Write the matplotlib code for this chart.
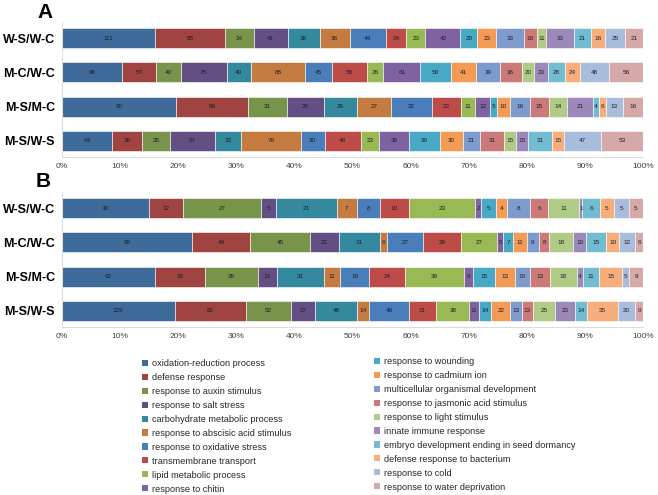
import numpy as np
import matplotlib
matplotlib.use("Agg")
import matplotlib.pyplot as plt
from matplotlib.patches import Patch

plt.rcParams['font.family'] = ['Liberation Sans', 'DejaVu Sans']

groups = ["W-S/W-C", "M-C/W-C", "M-S/M-C", "M-S/W-S"]

terms = [
    "oxidation-reduction process", "defense response", "response to auxin stimulus",
    "response to salt stress", "carbohydrate metabolic process",
    "response to abscisic acid stimulus", "response to oxidative stress",
    "transmembrane transport", "lipid metabolic process", "response to chitin",
    "response to wounding", "response to cadmium ion",
    "multicellular organismal development", "response to jasmonic acid stimulus",
    "response to light stimulus", "innate immune response",
    "embryo development ending in seed dormancy", "defense response to bacterium",
    "response to cold", "response to water deprivation",
]

colors = [
    "#3F6B9A", "#A04442", "#78944A", "#634F84", "#35899F", "#C57B3F",
    "#4A7EBB", "#BD4C49", "#98B954", "#7F63A1", "#47A9C4", "#F39A55",
    "#7E9BCE", "#CC7A79", "#AFCB86", "#9C89B9", "#72BCD2", "#F7AE7B",
    "#A8BCDC", "#D6A8A8",
]

# Panel A counts (per group, in term order)
a_ws_wc = [111, 85, 34, 41, 38, 36, 44, 24, 23, 42, 20, 23, 33, 16, 11, 33, 21, 16, 25, 21]
a_mc_wc = [98, 57, 40, 75, 40, 88, 45, 58, 26, 61, 50, 41, 39, 36, 20, 23, 28, 24, 48, 56]
a_ms_mc = [90, 56, 31, 29, 26, 27, 32, 23, 11, 12, 5, 10, 16, 15, 14, 21, 4, 6, 13, 16]
a_ms_ws = [64, 38, 35, 57, 33, 76, 30, 46, 23, 38, 39, 30, 21, 31, 15, 15, 31, 15, 47, 53]

# Panel B counts
b_ws_wc = [30, 12, 27, 5, 21, 7, 8, 10, 23, 2, 5, 4, 8, 6, 11, 1, 6, 5, 5, 5]
b_mc_wc = [99, 44, 45, 22, 31, 6, 27, 29, 27, 5, 7, 11, 9, 8, 18, 10, 15, 10, 12, 6]
b_ms_mc = [62, 33, 35, 13, 31, 11, 19, 24, 39, 6, 15, 13, 10, 13, 18, 4, 11, 15, 5, 9]
b_ms_ws = [129, 82, 52, 27, 48, 14, 46, 31, 38, 11, 14, 22, 13, 13, 25, 23, 14, 35, 20, 9]

xticks = np.arange(0, 1.01, 0.1)
xticklabels = [f"{int(round(t*100))}%" for t in xticks]

W, H = 658, 495
fig = plt.figure(figsize=(W/100, H/100), dpi=100)


def panel(rect, rows, letter, letter_xy):
    ax = fig.add_axes(rect)
    data = np.array(rows, dtype=float)
    frac = data / data.sum(axis=1, keepdims=True)
    left = np.zeros(len(groups))
    y = np.arange(len(groups))
    for j in range(len(terms)):
        bars = ax.barh(y, frac[:, j], left=left, height=0.58, color=colors[j],
                       edgecolor="white", linewidth=0.4)
        ax.bar_label(bars, labels=[str(int(v)) for v in data[:, j]],
                     label_type="center", fontsize=4.6, color="#1e1e2a")
        left += frac[:, j]
    ax.set_xlim(0, 1)
    ax.set_ylim(3.47, -0.47)
    ax.set_yticks(y)
    ax.set_yticklabels(groups, fontsize=9, fontweight="bold")
    ax.set_xticks(xticks)
    ax.set_xticklabels(xticklabels, fontsize=6, color="#404040")
    ax.tick_params(axis="both", length=0)
    ax.tick_params(axis="x", pad=4)
    ax.tick_params(axis="y", pad=5)
    for s in ("top", "right"):
        ax.spines[s].set_visible(False)
    for s in ("left", "bottom"):
        ax.spines[s].set_color("#DCDCDC")
        ax.spines[s].set_linewidth(0.8)
    fig.text(letter_xy[0] / W, 1 - letter_xy[1] / H, letter, fontsize=15,
             fontweight="bold", ha="center", va="center")
    return ax


left_f = 62 / W
width_f = 581 / W
h_f = 135 / H
panel([left_f, 1 - 157 / H, width_f, h_f],
      [a_ws_wc, a_mc_wc, a_ms_mc, a_ms_ws], "A", (45, 13))
panel([left_f, 1 - 327 / H, width_f, h_f],
      [b_ws_wc, b_mc_wc, b_ms_mc, b_ms_ws], "B", (43, 182))

handles = [Patch(facecolor=c, edgecolor="none") for c in colors]
common = dict(frameon=False, fontsize=6.6, handlelength=0.65, handleheight=0.65,
              handletextpad=0.4, labelspacing=0.54, borderpad=0, borderaxespad=0,
              loc="upper left")
leg1 = fig.legend(handles[:10], terms[:10], bbox_to_anchor=(142 / W, 1 - 359 / H), **common)
leg2 = fig.legend(handles[10:], terms[10:], bbox_to_anchor=(374 / W, 1 - 357 / H), **common)
for leg in (leg1, leg2):
    for t in leg.get_texts():
        t.set_color("#262626")

fig.savefig("out.png", dpi=100)
